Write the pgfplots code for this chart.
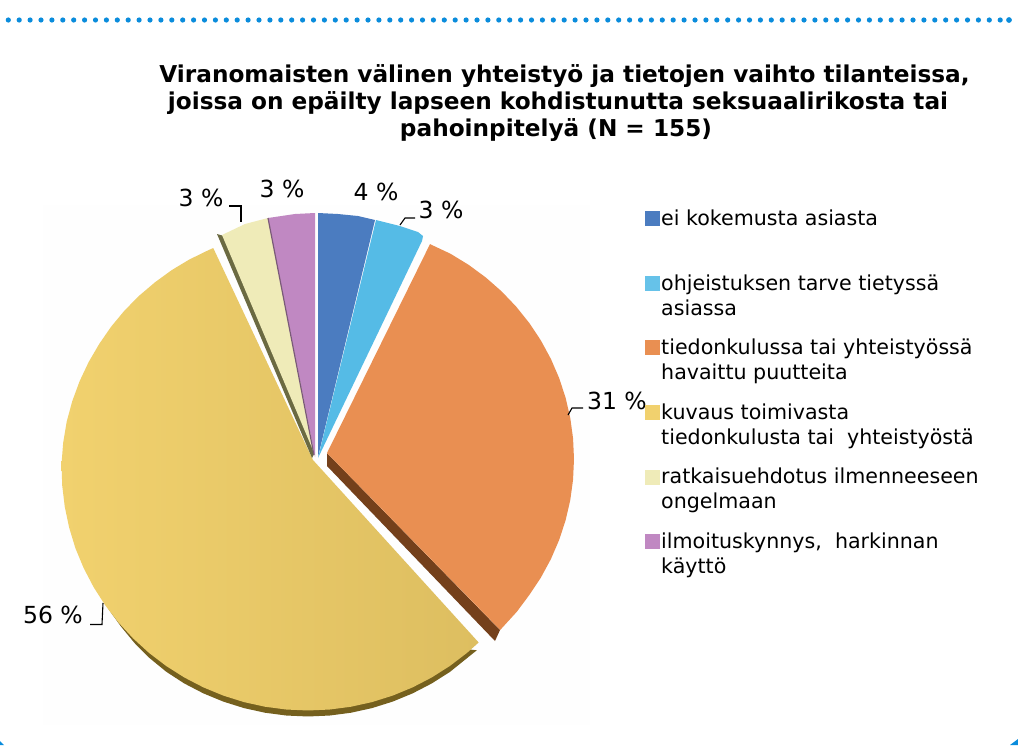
\documentclass[border=0pt]{standalone}
\usepackage{fontspec}
\setmainfont{DejaVu Sans}
\usepackage{pgfplots}
\usepackage{pgfplotstable}
\pgfplotsset{compat=1.18}
\definecolor{cBlue}{HTML}{4B7CC0}
\definecolor{cLight}{HTML}{55BBE6}
\definecolor{cOrange}{HTML}{E98F52}
\definecolor{cYellowA}{HTML}{F1D16E}
\definecolor{cYellowB}{HTML}{DDBE60}
\definecolor{cPale}{HTML}{EFEBB8}
\definecolor{cMauve}{HTML}{C088C2}
\definecolor{cYShadow}{HTML}{75601E}
\definecolor{cOShadow}{HTML}{74401B}
\definecolor{cPShadow}{HTML}{6B6A42}
\definecolor{cMShadow}{HTML}{7A5A78}
\definecolor{cDots}{HTML}{0A8CDC}
\pgfplotstableread{
t f
313.6 1.006
310 1.006
305 1.006
300 1.006
295 1.006
290 1.006
285 1.006
280 1.006
275 1.006
270 1.006
265 1.006
260 1.006
255 1.006
250 1.006
245 1.006
240 1.006
235 1.006
230 1.006
225 1.006
220 1.006
215 1.006
210 1.006
205 1.006
200 1.006
195 1.005
190 1.004
185 1.003
180 1.002
175 .999
170 .996
165 .992
160 .988
155 .984
150 .98
145 .977
140 .974
135 .971
130 .968
125 .966
120 .964
115 .962
113.6 .962
39 .026
}\yellowtbl
\pgfplotstableread{
t f
313 1.006
305 1.006
300 1.006
295 1.006
290 1.006
285 1.006
280 1.006
275 1.006
270 1.006
265 1.006
260 1.006
255 1.006
250 1.006
245 1.006
240 1.006
235 1.005
230 1.002
225 .998
220 .993
215 .990
}\yshadowtbl
\pgfplotstableread{
t f
65.3 .998
60 1
55 1
50 1
45 1
40 1
35 1
30 1
25 1
20 1
15 1
10 1
5 1
0 1
-5 1
-10 1
-15 1
-20 1
-25 1
-30 1
-35 1
-40 1.003
-45.8 1.006
90 .0253
}\orangetbl
\newcommand\pieplot[6]{\addplot[draw=none,#6] table[x expr={#2+\thisrow{f}*#4*cos(\thisrow{t})},y expr={#3-\thisrow{f}*#5*sin(\thisrow{t})}] {#1};}
\newcommand\lab[3]{\node[anchor=base west,inner sep=0pt,text=black] at (axis cs:#1,#2) {\fontsize{20.6}{24}\selectfont #3};}
\newcommand\pct[3]{\node[inner sep=0pt,text=black] at (axis cs:#1,#2) {\fontsize{23.5}{28}\selectfont #3};}
\newcommand\ttl[3]{\node[anchor=base,inner sep=0pt,text=black] at (axis cs:#1,#2) {\fontsize{23.2}{27}\selectfont\bfseries #3};}
\begin{document}
\begin{tikzpicture}
\begin{axis}[scale only axis,width=1018pt,height=745pt,xmin=0,xmax=1018,ymin=0,ymax=745,y dir=reverse,hide axis]
% page and faint plot background
\addplot[draw=none,fill=white] coordinates {(0,0)(1018,0)(1018,745)(0,745)} -- cycle;
\addplot[draw=none,fill=black!0.4] coordinates {(43,205)(590,205)(590,725)(43,725)} -- cycle;
% dots and corners
\addplot[cDots,line width=5.2pt,line cap=round,dash pattern=on 0pt off 10.9pt] coordinates {(8.3,20)(1002,20)};
\addplot[cDots,only marks,mark=*,mark size=2.6pt] coordinates {(1009,20)};
\addplot[draw=none,fill=cDots] coordinates {(1018,739)(1018,745)(1010,745)} -- cycle;
\addplot[draw=none,fill=cDots] coordinates {(0,741)(0,745)(4,745)} -- cycle;
% yellow
\pieplot{\yshadowtbl}{308}{470}{246}{245}{fill=cYShadow}
\pieplot{\yellowtbl}{308}{464}{246}{245}{left color=cYellowA,right color=cYellowB}
% orange
\addplot[draw=none,fill=cOShadow] coordinates {(327,453)(327,466)(495,641)(500,630)} -- cycle;
\pieplot{\orangetbl}{327}{459}{247}{237}{fill=cOrange}
% pale
\addplot[draw=none,fill=cPShadow] coordinates {(217,234)(224,236)(315,452)(312,458)} -- cycle;
\addplot[draw=none,fill=cPale] coordinates {(315,455)(268,218)(245,224)(222,235)} -- cycle;
% mauve
\addplot[draw=none,fill=cMauve] coordinates {(315,457)(315,213)(295,214)(268,218)} -- cycle;
\addplot[cMShadow,line width=1.2pt] coordinates {(268,218)(314,455)};
% blue
\addplot[draw=none,fill=cBlue] coordinates {(318,457)(318,213)(338,214)(358,216)(375,220)} -- cycle;
% light blue
\addplot[draw=none,fill=cLight] coordinates {(318,458)(376,220)(400,226)(418,232)(423,236)(422,241)} -- cycle;
% leaders
\addplot[black,line width=1.1pt] coordinates {(229,206)(241,206)(241,222)};
\addplot[black,line width=1.1pt] coordinates {(400,225)(405,218)(415,218)};
\addplot[black,line width=1.1pt] coordinates {(568,415)(572,408)(583,408)};
\addplot[black,line width=1.1pt] coordinates {(90,624.5)(102,624.5)(103,603)};
% legend keys
\addplot[only marks,mark=square*,mark size=7pt,cBlue,mark options={draw=none}] coordinates {(652,218)};
\addplot[only marks,mark=square*,mark size=7pt,cLight!90!white,mark options={draw=none}] coordinates {(652,283)};
\addplot[only marks,mark=square*,mark size=7pt,cOrange,mark options={draw=none}] coordinates {(652,347)};
\addplot[only marks,mark=square*,mark size=7pt,cYellowA,mark options={draw=none}] coordinates {(652,412)};
\addplot[only marks,mark=square*,mark size=7pt,cPale,mark options={draw=none}] coordinates {(652,477)};
\addplot[only marks,mark=square*,mark size=7pt,cMauve,mark options={draw=none}] coordinates {(652,541)};
% texts
\ttl{564.5}{82}{Viranomaisten välinen yhteistyö ja tietojen vaihto tilanteissa,}
\ttl{558}{109}{joissa on epäilty lapseen kohdistunutta seksuaalirikosta tai}
\ttl{556}{136}{pahoinpitelyä (N = 155)}
\pct{201}{198}{3 \%}
\pct{282}{189}{3 \%}
\pct{376}{192}{4 \%}
\pct{441}{210}{3 \%}
\pct{617}{401}{31 \%}
\pct{53}{615}{56 \%}
\lab{661}{225}{ei kokemusta asiasta}
\lab{661}{290}{ohjeistuksen tarve tietyssä}
\lab{661}{315}{asiassa}
\lab{661}{354}{tiedonkulussa tai yhteistyössä}
\lab{661}{379}{havaittu puutteita}
\lab{661}{419}{kuvaus toimivasta}
\lab{661}{444}{tiedonkulusta tai\ \ yhteistyöstä}
\lab{661}{483}{ratkaisuehdotus ilmenneeseen}
\lab{661}{508}{ongelmaan}
\lab{661}{548}{ilmoituskynnys,\ \ harkinnan}
\lab{661}{573}{käyttö}
\end{axis}
\end{tikzpicture}
\end{document}
